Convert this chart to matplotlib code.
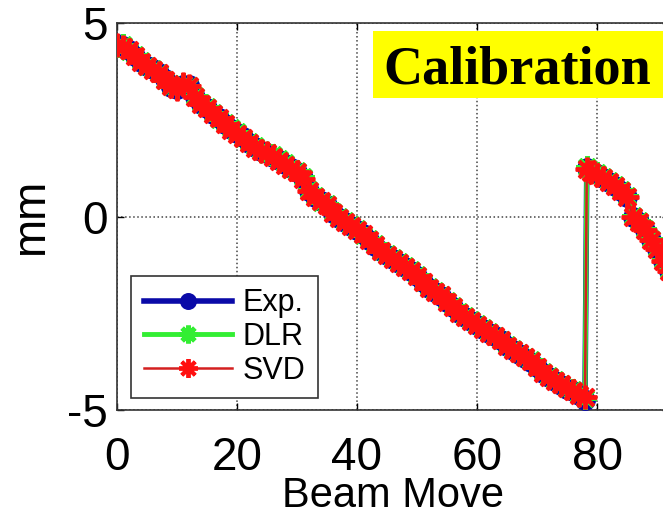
import matplotlib
matplotlib.use("Agg")
import matplotlib.patches as mpatches
import matplotlib.pyplot as plt

# sample index (beam move), jump back near 78
BEAM_MOVE = list(range(79)) + [78.3] + list(range(79, 93))

EXP = [4.45, 4.40, 4.30, 4.15, 4.00, 3.90, 3.80, 3.70, 3.55, 3.35,
       3.30, 3.40, 3.40, 3.10, 2.90, 2.80, 2.65, 2.55, 2.40, 2.25,
       2.15, 2.05, 1.90, 1.80, 1.70, 1.65, 1.55, 1.45, 1.35, 1.25,
       1.15, 1.00, 0.65, 0.50, 0.40, 0.30, 0.10, -0.05, -0.15, -0.25,
       -0.35, -0.45, -0.60, -0.75, -0.90, -1.00, -1.10, -1.20, -1.30, -1.40,
       -1.55, -1.70, -1.85, -1.95, -2.05, -2.20, -2.35, -2.50, -2.60, -2.70,
       -2.80, -2.90, -3.00, -3.10, -3.20, -3.35, -3.45, -3.55, -3.65, -3.75,
       -3.90, -4.05, -4.15, -4.25, -4.35, -4.45, -4.50, -4.60, -4.75,
       1.25, 1.15, 1.10, 1.00, 0.90, 0.80, 0.65, 0.50, 0.00, -0.15,
       -0.35, -0.60, -0.85, -1.15, -1.40]

DLR = [4.40, 4.42, 4.28, 4.18, 4.02, 3.88, 3.82, 3.72, 3.52, 3.38,
       3.32, 3.42, 3.38, 3.12, 2.92, 2.82, 2.68, 2.52, 2.42, 2.28,
       2.18, 2.02, 1.92, 1.82, 1.72, 1.62, 1.58, 1.48, 1.38, 1.22,
       1.18, 1.02, 0.68, 0.52, 0.38, 0.32, 0.12, -0.02, -0.12, -0.22,
       -0.32, -0.48, -0.58, -0.72, -0.88, -0.98, -1.08, -1.18, -1.28, -1.38,
       -1.52, -1.68, -1.82, -1.92, -2.02, -2.18, -2.32, -2.48, -2.58, -2.68,
       -2.78, -2.88, -2.98, -3.08, -3.18, -3.32, -3.42, -3.52, -3.62, -3.72,
       -3.88, -4.02, -4.12, -4.22, -4.32, -4.42, -4.48, -4.58, -4.70,
       1.28, 1.18, 1.12, 1.02, 0.92, 0.82, 0.68, 0.52, 0.02, -0.12,
       -0.32, -0.58, -0.82, -1.12, -1.38]

SVD = [4.42, 4.38, 4.30, 4.14, 3.98, 3.90, 3.78, 3.70, 3.52, 3.36,
       3.30, 3.42, 3.38, 3.08, 2.90, 2.80, 2.64, 2.54, 2.40, 2.24,
       2.14, 2.04, 1.90, 1.78, 1.70, 1.64, 1.54, 1.44, 1.34, 1.24,
       1.14, 0.98, 0.66, 0.50, 0.40, 0.30, 0.10, -0.04, -0.14, -0.24,
       -0.34, -0.46, -0.60, -0.74, -0.90, -1.00, -1.10, -1.20, -1.30, -1.40,
       -1.54, -1.70, -1.84, -1.94, -2.04, -2.20, -2.34, -2.50, -2.60, -2.70,
       -2.80, -2.90, -3.00, -3.10, -3.20, -3.34, -3.44, -3.54, -3.64, -3.74,
       -3.90, -4.04, -4.14, -4.24, -4.34, -4.44, -4.50, -4.60, -4.66,
       1.22, 1.14, 1.08, 1.00, 0.90, 0.80, 0.66, 0.50, 0.00, -0.14,
       -0.34, -0.60, -0.84, -1.14, -1.40]

X_TICKS = [0, 20, 40, 60, 80]
Y_TICKS = [-5, 0, 5]

ASTERISK = (8, 2, 0)

plt.rcParams["font.family"] = "Liberation Sans"
plt.rcParams["axes.unicode_minus"] = False
fig = plt.figure(figsize=(6.63, 5.18), dpi=100)
# axes runs past the right edge of the picture (cropped original)
ax = fig.add_axes([117 / 663, 108 / 518, 552 / 663, 387 / 518])

ax.plot(BEAM_MOVE, EXP, color="#0a0aa8", lw=4, marker="o", ms=14,
        mfc="#0a0aa8", mec="#0a0aa8", label="Exp.", zorder=3)
ax.plot(BEAM_MOVE, DLR, color="#33ee33", lw=3.5, marker=ASTERISK, ms=16,
        mew=3.5, mec="#33ee33", label="DLR", zorder=4)
ax.plot(BEAM_MOVE, SVD, color="#d42020", lw=1.8, marker=ASTERISK, ms=17,
        mew=2.8, mec="#ff1010", label="SVD", zorder=5)

ax.set_xlim(0, 92)
ax.set_ylim(-5, 5)
ax.set_xticks(X_TICKS)
ax.set_yticks(Y_TICKS)
ax.tick_params(direction="in", top=True, right=True, length=5, width=1,
               labelsize=33, pad=7)
ax.tick_params(axis="x", pad=19)
ax.grid(True, linestyle=":", color="#444444", linewidth=1.1)
ax.set_axisbelow(True)
for sp in ax.spines.values():
    sp.set_linewidth(1.2)
    sp.set_color("#333333")

ax.set_xlabel("Beam Move", fontsize=30, labelpad=-3)
ax.set_ylabel("mm", fontsize=33, labelpad=10)

leg = ax.legend(loc="lower left", bbox_to_anchor=(0.026, 0.031),
                borderaxespad=0, fontsize=22, handlelength=2.9,
                handletextpad=0.35, labelspacing=0.12, borderpad=0.4,
                fancybox=False, framealpha=1, edgecolor="#333333",
                markerscale=0.8)
leg.get_frame().set_linewidth(1.2)

# yellow "Calibration" tag
fig.patches.append(mpatches.Rectangle((373 / 663, 420 / 518), 290 / 663,
                                      67 / 518, transform=fig.transFigure,
                                      facecolor="#ffff00", edgecolor="none",
                                      zorder=10))
fig.text(517 / 663, 435 / 518, "Calibration", ha="center", va="baseline",
         fontsize=39, fontweight="bold", family="Liberation Serif",
         zorder=11)

fig.savefig("out.png", dpi=100)
